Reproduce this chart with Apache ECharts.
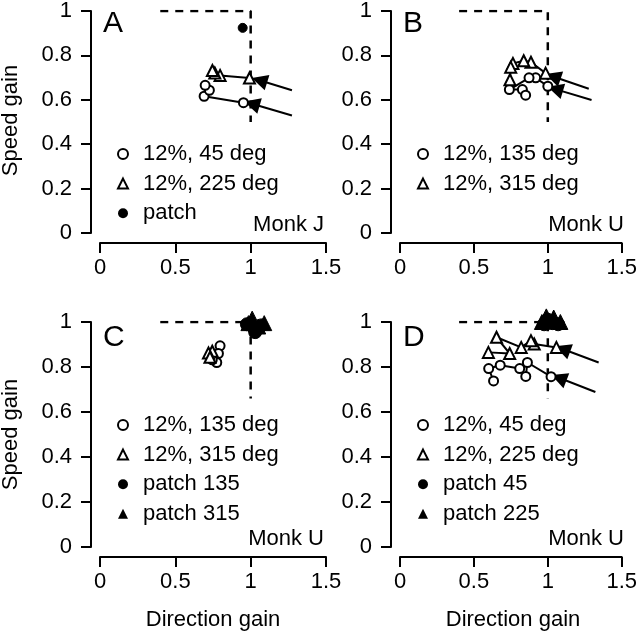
<!DOCTYPE html>
<html>
<head>
<meta charset="utf-8">
<script src="https://cdn.jsdelivr.net/npm/echarts@6/dist/echarts.min.js"></script>
<style>html,body{margin:0;padding:0;background:#fff}#c{width:640px;height:632px}</style>
</head>
<body>
<div id="c"></div>
<script>
// ---- data ----
const xTicks = [0, 0.5, 1, 1.5];
const yTicks = [0, 0.2, 0.4, 0.6, 0.8, 1];

// Panel A (Monk J)
const circlesA = [[0.952,0.587],[0.691,0.616],[0.726,0.643],[0.698,0.665]];
const trianglesA = [[0.992,0.698],[0.797,0.710],[0.762,0.721],[0.746,0.732]];
const patchA = [[0.947,0.924]];
const arrowsA = [[[1.274,0.529],[1.008,0.582]], [[1.274,0.643],[1.058,0.688]]];
const dashA = [[0.4,1],[1,1],[1,0.5]];

// Panel B (Monk U)
const circlesB = [[1.0,0.661],[0.918,0.699],[0.873,0.699],[0.74,0.646],[0.828,0.646],[0.85,0.621]];
const trianglesB = [[0.985,0.72],[0.886,0.769],[0.837,0.776],[0.764,0.764],[0.749,0.747],[0.744,0.69]];
const arrowsB = [[[1.296,0.599],[1.05,0.648]], [[1.277,0.65],[1.035,0.705]]];
const dashB = [[0.4,1],[1,1],[1,0.5]];

// Panel C (Monk U)
const circlesC = [[0.797,0.894],[0.786,0.86],[0.775,0.82],[0.745,0.832]];
const trianglesC = [[0.745,0.87],[0.72,0.862],[0.73,0.843]];
const patchCircC = [[0.975,0.99],[1.03,0.955],[1.02,0.975],[1.07,0.985]];
const patchTriC = [[1.01,1.015],[1.09,0.995],[1.05,0.98],[0.985,0.995]];
const dashC = [[0.4,1],[1,1],[1,0.66]];

// Panel D (Monk U)
const circlesD = [[1.022,0.757],[0.862,0.82],[0.851,0.758],[0.81,0.793],[0.678,0.808],[0.60,0.793],[0.633,0.738]];
const trianglesD = [[1.058,0.887],[0.908,0.902],[0.886,0.917],[0.82,0.887],[0.653,0.932],[0.742,0.86],[0.598,0.865]];
const patchCircD = [[0.975,0.99],[1.03,0.995],[1.07,0.99],[1.0,1.01]];
const patchTriD = [[0.99,1.025],[1.04,1.02],[1.085,1.0],[0.96,1.0]];
const arrowsD = [[[1.322,0.689],[1.075,0.752]], [[1.344,0.82],[1.1,0.88]]];
const dashD = [[0.4,1],[1,1],[1,0.66]];

const legendA = ['12%, 45 deg', '12%, 225 deg', 'patch'];
const legendB = ['12%, 135 deg', '12%, 315 deg'];
const legendC = ['12%, 135 deg', '12%, 315 deg', 'patch 135', 'patch 315'];
const legendD = ['12%, 45 deg', '12%, 225 deg', 'patch 45', 'patch 225'];
const panelLetters = ['A', 'B', 'C', 'D'];
const monkLabels = ['Monk J', 'Monk U', 'Monk U', 'Monk U'];

// ---- layout ----
const FONT = '"Liberation Sans", Arial, Helvetica, sans-serif';
const grids = [
  {left: 100, top: 8, width: 226, height: 225},
  {left: 400, top: 8, width: 226, height: 225},
  {left: 100, top: 322, width: 226, height: 225},
  {left: 400, top: 322, width: 226, height: 225}
];

const chart = echarts.init(document.getElementById('c'), null, {renderer: 'canvas'});

const xAxes = grids.map((g, i) => ({
  gridIndex: i, type: 'value',
  min: xTicks[0], max: xTicks[xTicks.length - 1], interval: xTicks[1] - xTicks[0],
  offset: 10,
  axisLine: {show: true, onZero: false, lineStyle: {color: '#000', width: 2}},
  axisTick: {show: true, length: 10, lineStyle: {color: '#000', width: 2}},
  axisLabel: {color: '#000', fontSize: 22, fontFamily: FONT, margin: 14},
  splitLine: {show: false}
}));
const yAxes = grids.map((g, i) => ({
  gridIndex: i, type: 'value',
  min: yTicks[0], max: yTicks[yTicks.length - 1], interval: yTicks[1] - yTicks[0],
  offset: 9,
  axisLine: {show: true, onZero: false, lineStyle: {color: '#000', width: 2}},
  axisTick: {show: true, length: 10, lineStyle: {color: '#000', width: 2}},
  axisLabel: {color: '#000', fontSize: 22, fontFamily: FONT, margin: 19},
  splitLine: {show: false}
}));

const series = [];
function dash(i, data) {
  series.push({type: 'line', xAxisIndex: i, yAxisIndex: i, data: data, symbol: 'none',
    lineStyle: {color: '#000', width: 2.5, type: [8, 7]}, silent: true, z: 1});
}
function traj(i, name, data, symbol, size) {
  series.push({type: 'line', name: name, xAxisIndex: i, yAxisIndex: i, data: data,
    symbol: symbol, symbolSize: size, showAllSymbol: true,
    lineStyle: {color: '#000', width: 2},
    itemStyle: {color: '#fff', borderColor: '#000', borderWidth: 2, opacity: 1}, z: 3});
}
function patch(i, name, data, symbol, size) {
  series.push({type: 'scatter', name: name, xAxisIndex: i, yAxisIndex: i, data: data,
    symbol: symbol, symbolSize: size, clip: false,
    itemStyle: {color: '#000', borderColor: '#000', borderWidth: 1, opacity: 1}, z: 4});
}
function arrows(i, list) {
  series.push({type: 'lines', coordinateSystem: 'cartesian2d', xAxisIndex: i, yAxisIndex: i,
    data: list.map(c => ({coords: c})),
    symbol: ['none', 'triangle'], symbolSize: [10, 16],
    lineStyle: {color: '#000', width: 2, opacity: 1}, z: 2});
}

dash(0, dashA);
traj(0, legendA[0], circlesA, 'circle', 9);
traj(0, legendA[1], trianglesA, 'triangle', 11);
patch(0, legendA[2], patchA, 'circle', 9);
arrows(0, arrowsA);

dash(1, dashB);
traj(1, legendB[0] + ' ', circlesB, 'circle', 9);
traj(1, legendB[1] + ' ', trianglesB, 'triangle', 11);
arrows(1, arrowsB);

dash(2, dashC);
traj(2, legendC[0], circlesC, 'circle', 9);
traj(2, legendC[1], trianglesC, 'triangle', 11);
patch(2, legendC[2], patchCircC, 'circle', 13);
patch(2, legendC[3], patchTriC, 'triangle', 15);

dash(3, dashD);
traj(3, legendD[0] + ' ', circlesD, 'circle', 9);
traj(3, legendD[1] + ' ', trianglesD, 'triangle', 11);
patch(3, legendD[2], patchCircD, 'circle', 13);
patch(3, legendD[3], patchTriD, 'triangle', 15);
arrows(3, arrowsD);

function legendItem(name, kind) {
  const open = {color: '#fff', borderColor: '#000', borderWidth: 2, opacity: 1};
  const fill = {color: '#000', borderColor: '#000', borderWidth: 0, opacity: 1};
  if (kind === 'oc') return {name, icon: 'circle', itemStyle: open};
  if (kind === 'ot') return {name, icon: 'triangle', itemStyle: open};
  if (kind === 'fc') return {name, icon: 'circle', itemStyle: fill};
  return {name, icon: 'triangle', itemStyle: fill};
}
function legend(left, top, items) {
  return {left: left, top: top, orient: 'vertical', itemWidth: 10, itemHeight: 10,
    itemGap: 5.6, selectedMode: false, data: items,
    textStyle: {color: '#000', fontSize: 22, fontFamily: FONT, lineHeight: 24, padding: [0, 0, 0, 10]}};
}
const legends = [
  legend(112, 137, [legendItem(legendA[0], 'oc'), legendItem(legendA[1], 'ot'), legendItem(legendA[2], 'fc')]),
  legend(412, 137, [legendItem(legendB[0] + ' ', 'oc'), legendItem(legendB[1] + ' ', 'ot')]),
  legend(112, 408, [legendItem(legendC[0], 'oc'), legendItem(legendC[1], 'ot'), legendItem(legendC[2], 'fc'), legendItem(legendC[3], 'ft')]),
  legend(412, 408, [legendItem(legendD[0] + ' ', 'oc'), legendItem(legendD[1] + ' ', 'ot'), legendItem(legendD[2], 'fc'), legendItem(legendD[3], 'ft')])
];

const graphics = [];
grids.forEach((g, i) => {
  graphics.push({type: 'text', left: g.left + 3, top: g.top + 1,
    style: {text: panelLetters[i], font: '30px ' + FONT, fill: '#000'}});
  graphics.push({type: 'text', x: g.left + g.width - 2, y: g.top + g.height - 8,
    style: {text: monkLabels[i], font: '22px ' + FONT, fill: '#000', textAlign: 'right', textVerticalAlign: 'middle'}});
});
[0, 2].forEach(i => {
  const g = grids[i];
  graphics.push({type: 'text', x: 11, y: g.top + g.height / 2, rotation: Math.PI / 2,
    style: {text: 'Speed gain', font: '22px ' + FONT, fill: '#000', textAlign: 'center', textVerticalAlign: 'middle'}});
});
[2, 3].forEach(i => {
  const g = grids[i];
  graphics.push({type: 'text', x: g.left + g.width / 2, y: 620,
    style: {text: 'Direction gain', font: '22px ' + FONT, fill: '#000', textAlign: 'center', textVerticalAlign: 'middle'}});
});

chart.setOption({
  animation: false,
  backgroundColor: '#fff',
  grid: grids,
  xAxis: xAxes,
  yAxis: yAxes,
  legend: legends,
  series: series,
  graphic: graphics
});
</script>
</body>
</html>
